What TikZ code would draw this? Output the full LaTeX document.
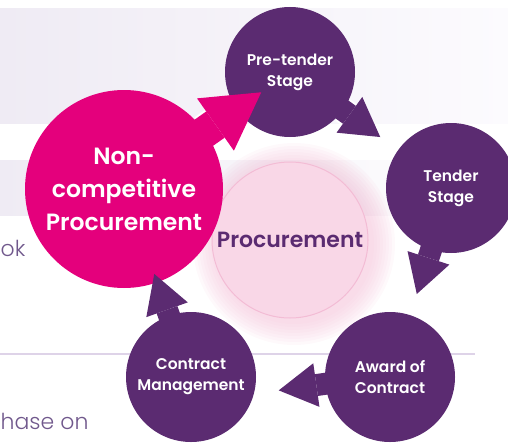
\documentclass[tikz,border=0pt]{standalone}
\usepackage{tikz}
\usepackage{xcolor}
\usepackage{fontspec}
\setmainfont{Poppins}[BoldFont=* SemiBold]
\newfontfamily\lightfont{Poppins}[UprightFont=* Light]
\usetikzlibrary{arrows.meta,positioning}

\definecolor{ogppurple}{RGB}{91,43,113}
\definecolor{ogppink}{RGB}{228,0,124}
\definecolor{procfill}{RGB}{249,215,231}
\definecolor{procedge}{RGB}{243,188,213}
\definecolor{bandlav}{RGB}{239,235,244}
\definecolor{bandlight}{RGB}{252,251,254}
\definecolor{rulelav}{RGB}{222,211,232}
\definecolor{greytext}{RGB}{112,88,140}

\begin{document}
\begin{tikzpicture}[x=1pt, y=-1pt]
    \tikzstyle{stage} = [circle, fill=ogppurple, text=white, minimum size=130pt, inner sep=0pt, align=center, font=\bfseries\fontsize{15.5}{21}\selectfont]
    \tikzstyle{bigstage} = [stage, fill=ogppink, minimum size=198pt, font=\bfseries\fontsize{23.5}{33}\selectfont]
    \tikzstyle{hub} = [circle, fill=procfill, draw=procedge, line width=1pt, minimum size=156pt, inner sep=0pt, text=ogppurple, font=\bfseries\fontsize{22}{26}\selectfont]
    \tikzstyle{flow} = [ogppurple, line width=22pt, -{Triangle[length=38pt, width=44pt, line width=0pt]}, shorten <=-4pt]
    \tikzstyle{bigflow} = [flow, ogppink, line width=32pt, -{Triangle[length=56pt, width=64pt, line width=0pt]}]
    \tikzstyle{notch} = [white, line width=26pt]
    \tikzstyle{bignotch} = [white, line width=36pt]
    \tikzstyle{sidetext} = [text=greytext, font=\lightfont\fontsize{22}{26}\selectfont, inner sep=0pt]

    \useasboundingbox (0,0) rectangle (508,444);
    \clip (0,0) rectangle (508,444);

    % Page background
    \shade[left color=bandlav, right color=bandlight] (0,9) rectangle (508,123);
    \shade[left color=bandlav, right color=white] (0,160) rectangle (508,215);
    \draw[rulelav, line width=1.5pt] (0,354) -- (475,354);
    \node[sidetext, anchor=base west] (book) at (0.5,256) {ok};
    \node[sidetext, anchor=base west] (phase) at (0.5,429) {hase on};

    % Hub with its glow
    \coordinate (glow) at (294,244);
    \foreach \r in {80,83,...,101}
        \fill[procedge, opacity=0.09] (glow) circle (\r pt);
    \node[hub] (proc) at (290,240) {Procurement};

    % Stages
    \node[stage] (pre) at (290,72) {Pre-tender\\Stage};
    \node[stage] (tender) at (451,188) {Tender\\Stage};
    \node[stage] (award) at (390,377) {Award of\\Contract};
    \node[stage] (contract) at (191,377) {Contract\\Management};
    \node[bigstage] (noncomp) at (124,189) {Non-\\competitive\\Procurement};

    % White edges of the shafts
    \draw[bignotch, shorten >=19pt] (noncomp) -- (pre);
    \draw[notch, shorten >=53pt] (pre) -- (tender);
    \draw[notch, shorten >=53pt] (tender) -- (award);
    \draw[notch, shorten >=56pt] (award.186) -- (contract.345);
    \draw[notch, shorten >=22pt] (contract) -- (noncomp);

    % Arrows
    \draw[bigflow, shorten >=-30pt] (noncomp) -- (pre);
    \draw[flow, shorten >=22pt] (pre) -- (tender);
    \draw[flow, shorten >=22pt] (tender) -- (award);
    \draw[flow, shorten >=25pt] (award.186) -- (contract.345);
    \draw[flow, shorten >=-9pt] (contract) -- (noncomp);
\end{tikzpicture}
\end{document}
